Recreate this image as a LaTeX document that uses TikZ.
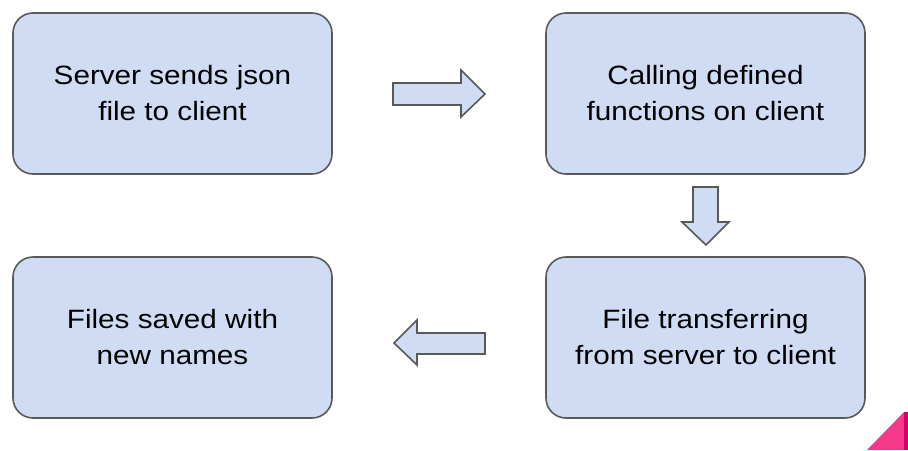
\documentclass[tikz,border=0pt]{standalone}
\usepackage{fontspec}
\setmainfont{Liberation Sans}[FakeStretch=1.12]
\definecolor{boxfill}{HTML}{CFDCF3}
\definecolor{boxline}{HTML}{595959}
\definecolor{pinkA}{HTML}{F7398A}
\definecolor{pinkB}{HTML}{D3006B}
\begin{document}
\begin{tikzpicture}[x=1pt,y=-1pt,
  stepbox/.style={draw=boxline,line width=1.6pt,fill=boxfill,rounded corners=20pt,
    minimum width=319pt,minimum height=161pt,align=center,inner sep=0pt,
    font=\fontsize{26.5}{36}\selectfont},
  blockarrow/.style={draw=boxline,line width=1.6pt,fill=boxfill,line join=miter}]
\useasboundingbox (0,0) rectangle (908,450);
\node[stepbox] (s1) at (172.5,93.5) {Server sends json\\file to client};
\node[stepbox] (s2) at (705.5,93.5) {Calling defined\\functions on client};
\node[stepbox] (s3) at (705.5,337.5) {File transferring\\from server to client};
\node[stepbox] (s4) at (172.5,337.5) {Files saved with\\new names};
% right arrow s1 -> s2
\draw[blockarrow] (393,83) -- (461,83) -- (461,70) -- (485,94) -- (461,117) -- (461,105) -- (393,105) -- cycle;
% down arrow s2 -> s3
\draw[blockarrow] (693,187) -- (718,187) -- (718,222) -- (729,222) -- (706,245) -- (682,222) -- (693,222) -- cycle;
% left arrow s3 -> s4
\draw[blockarrow] (485,333) -- (417,333) -- (417,320) -- (394,343) -- (417,365) -- (417,354) -- (485,354) -- cycle;
% corner decoration
\fill[pinkA] (867,450) -- (904,412) -- (904,450) -- cycle;
\fill[pinkB] (903.5,412) rectangle (908,450);
\end{tikzpicture}
\end{document}
